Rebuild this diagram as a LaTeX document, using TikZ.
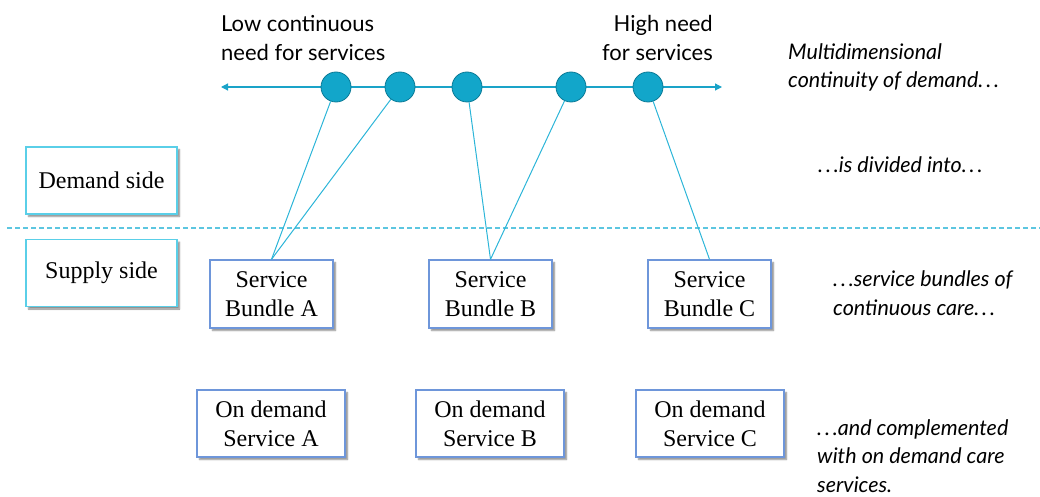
\documentclass[tikz,border=0pt]{standalone}
\usepackage{fontspec}
\setmainfont{Liberation Serif}
\newfontfamily\labelsans{Lato}
\usetikzlibrary{arrows.meta,shadows.blur}

\definecolor{axiscyan}{HTML}{1AA3C8}
\definecolor{linkcyan}{HTML}{2CB5D8}
\definecolor{dotfill}{HTML}{12A6CA}
\definecolor{dotedge}{HTML}{0B7A96}
\definecolor{sidecyan}{HTML}{5ACFE8}
\definecolor{bundleblue}{HTML}{6E96DA}
\definecolor{dividercyan}{HTML}{5CC6E0}

% spaced ellipsis for the commentary
\newcommand{\spaceddots}{.\hspace{0.13em}.\hspace{0.13em}.}

\tikzset{
  boxshadow/.style={blur shadow={shadow xshift=2.5pt, shadow yshift=-2.5pt,
      shadow blur steps=4, shadow blur radius=1.5pt, shadow opacity=45}},
  sidebox/.style={draw=sidecyan, line width=1.3pt, fill=white, boxshadow,
      minimum width=151pt, minimum height=67pt, inner sep=0pt,
      font=\fontsize{24}{29}\selectfont},
  bundlebox/.style={draw=bundleblue, line width=1.3pt, fill=white, boxshadow,
      minimum width=123pt, minimum height=68pt, inner sep=0pt, align=center,
      font=\fontsize{24}{29}\selectfont},
  ondemandbox/.style={bundlebox, minimum width=148pt, minimum height=67pt},
  dot/.style={circle, fill=dotfill, draw=dotedge, line width=0.8pt,
      minimum size=30pt, inner sep=0pt},
  link/.style={draw=linkcyan, line width=1pt},
  axis/.style={draw=axiscyan, line width=1.2pt,
      {Triangle[length=7pt,width=7pt]}-{Triangle[length=7pt,width=7pt]}},
  divider/.style={draw=dividercyan, line width=1.5pt, dash pattern=on 5pt off 3pt},
  toplabel/.style={font=\labelsans\fontsize{22}{29}\selectfont, inner sep=0pt},
  note/.style={font=\labelsans\itshape\fontsize{21.5}{28.5}\selectfont,
      inner sep=0pt, align=left},
}

\begin{document}
\begin{tikzpicture}[x=1pt,y=-1pt]
\useasboundingbox (0,0) rectangle (1040,497);

% demand axis
\coordinate (axL) at (221,87);
\coordinate (axR) at (722,87);
\draw[axis] (axL) -- (axR);

% axis labels (anchored at the baseline of their last line)
\node[toplabel, anchor=base west, align=left] (lowlab) at (221,61)
  {Low continuous\\need for services};
\node[toplabel, anchor=base east, align=right] (highlab) at (713,61)
  {High need\\for services};

% divider between demand and supply side
\coordinate (dl) at (7,228);
\coordinate (dr) at (1040,228);
\draw[divider] (dl) -- (dr);

% side boxes
\node[sidebox] (demand) at (101.5,180.5) {Demand side};
\node[sidebox] (supply) at (101.5,273) {Supply side};

% service bundles
\node[bundlebox] (bA) at (271.5,294) {Service\\Bundle A};
\node[bundlebox] (bB) at (490.5,294) {Service\\Bundle B};
\node[bundlebox] (bC) at (709.5,294) {Service\\Bundle C};

% on demand services
\node[ondemandbox] (oA) at (271,423.5) {On demand\\Service A};
\node[ondemandbox] (oB) at (490,423.5) {On demand\\Service B};
\node[ondemandbox] (oC) at (710,423.5) {On demand\\Service C};

% demand points on the axis
\node[dot] (c1) at (336,87) {};
\node[dot] (c2) at (400,87) {};
\node[dot] (c3) at (467,87) {};
\node[dot] (c4) at (571,87) {};
\node[dot] (c5) at (648,87) {};

% links from demand points to bundles
\draw[link] (c1) -- (bA.north);
\draw[link] (c2) -- (bA.north);
\draw[link] (c3) -- (bB.north);
\draw[link] (c4) -- (bB.north);
\draw[link] (c5) -- (bC.north);

% commentary (anchored at the baseline of the last line)
\node[note, anchor=base west] (n1) at (788,88)
  {Multidimensional\\continuity of demand\spaceddots};
\node[note, anchor=base west] (n2) at (818,172)
  {\spaceddots is divided into\spaceddots};
\node[note, anchor=base west] (n3) at (833,315)
  {\spaceddots service bundles of\\continuous care\spaceddots};
\node[note, anchor=base west] (n4) at (817,492)
  {\spaceddots and complemented\\with on demand care\\services.};
\end{tikzpicture}
\end{document}
